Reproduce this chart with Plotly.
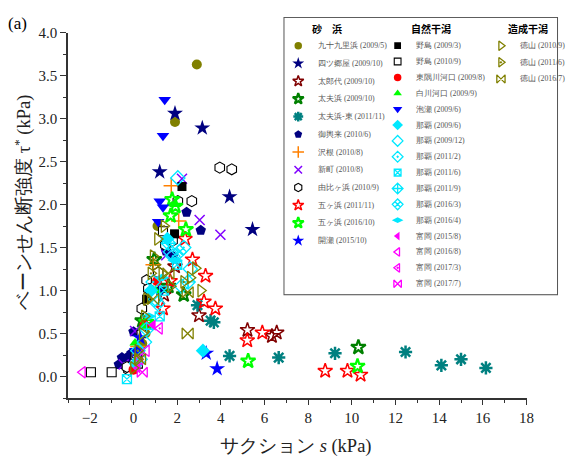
import plotly.graph_objects as go

# ---------------- data (suction s [kPa], vane shear strength tau* [kPa]) ----------------
# 砂浜
x_kujukuri = [2.9, 1.9, 1.1, 0.55, 0.3, 0.15, 0.4]
y_kujukuri = [3.63, 2.96, 1.75, 0.5, 0.3, 0.2, 0.38]
x_yotsugoya = [1.9, 3.15, 1.2, 4.4, 5.45]
y_yotsugoya = [3.06, 2.89, 2.38, 2.09, 1.71]
x_tarodai = [5.22, 6.34, 6.56, 3.0, 1.9, 1.4]
y_tarodai = [0.54, 0.47, 0.51, 0.71, 1.28, 0.95]
x_tayuhama = [10.3, 2.3, 0.95, 0.4, 1.6]
y_tayuhama = [0.34, 0.95, 1.36, 0.65, 1.05]
x_tayuhama_e = [4.4, 6.65, 9.23, 12.46, 14.1, 15.0, 16.14, 2.93, 3.53, 3.68]
y_tayuhama_e = [0.24, 0.22, 0.27, 0.285, 0.13, 0.2, 0.1, 0.83, 0.65, 0.63]
x_omokorai = [2.43, 3.08, 1.2, -0.53, -0.09, 0.0, 1.8, 1.49, -0.3, -0.67]
y_omokorai = [1.91, 1.7, 1.0, 0.22, 0.27, 0.52, 1.4, 1.46, 0.22, 0.14]
x_sawane = [1.73, 2.07, 0.9, 0.2]
y_sawane = [2.22, 1.81, 1.3, 0.35]
x_shinmachi = [2.22, 3.03, 3.98, 1.5, 0.07, -0.45]
y_shinmachi = [2.3, 1.82, 1.65, 1.41, 0.53, 0.14]
x_yuigahama = [3.95, 4.5, 2.03, 2.67, 1.46, 1.79, 1.13, 0.6, 0.68, 0.38, 0.38, 0.1, 0.0, -0.23, 0.15, -0.3]
y_yuigahama = [2.43, 2.41, 2.04, 2.04, 1.53, 1.58, 1.21, 1.12, 1.02, 0.79, 0.5, 0.24, 0.1, 0.08, 0.26, 0.11]
x_gokahama11 = [5.21, 5.9, 8.78, 9.8, 10.4, 1.68, 3.3, 3.23, 3.75, 1.35, 2.36, 2.7]
y_gokahama11 = [0.42, 0.51, 0.065, 0.065, 0.02, 1.11, 1.17, 0.87, 0.79, 0.79, 1.6, 1.36]
x_gokahama16 = [5.25, 10.26, 1.77, 1.92, 1.7, 2.4, 0.59]
y_gokahama16 = [0.18, 0.12, 2.06, 1.98, 1.87, 1.71, 0.63]
x_yurise = [3.33, 3.83, 0.3, 0.15]
y_yurise = [0.27, 0.09, 0.45, 0.3]
# 自然干潟
x_nojima09 = [2.22, 1.88, 0.6]
y_nojima09 = [2.21, 1.66, 0.9]
x_nojima10 = [-1.95, -1.0, 1.35, 0.2]
y_nojima10 = [0.05, 0.05, 1.69, 0.15]
x_higashi = [1.08, 0.0, 0.5]
y_higashi = [1.11, 0.08, 0.6]
x_shirakawa = [0.45, 0.07, 1.0, 1.9]
y_shirakawa = [0.58, 0.39, 1.0, 2.0]
x_awase = [1.43, 1.35, 1.2, 1.35, 1.13, 0.1]
y_awase = [3.22, 2.8, 2.04, 1.97, 1.8, 0.3]
x_naha0906 = [3.18, 1.55, 0.8, 0.1]
y_naha0906 = [0.3, 1.6, 1.0, 0.15]
x_naha0912 = [2.03, 2.6, 1.7, 2.2, 0.5, 1.0]
y_naha0912 = [2.31, 1.25, 1.45, 1.05, 0.4, 0.9]
x_naha1102 = [1.8, 2.3, 0.9, 0.2]
y_naha1102 = [1.4, 1.5, 1.1, 0.3]
x_naha1106 = [2.0, 1.4, -0.3, 1.2]
y_naha1106 = [1.3, 1.0, -0.03, 0.7]
x_naha1109 = [1.6, 2.5, 0.6]
y_naha1109 = [1.55, 1.1, 0.55]
x_naha1603 = [2.1, 1.1, 0.3]
y_naha1603 = [1.45, 0.85, 0.2]
x_naha1604 = [1.9, 1.3, 0.7]
y_naha1604 = [1.35, 1.15, 0.7]
x_tomioka1508 = [0.9, 0.2]
y_tomioka1508 = [0.6, 0.1]
x_tomioka1608 = [-2.33, 0.6]
y_tomioka1608 = [0.05, 0.3]
x_tomioka1703 = [1.2, 0.3]
y_tomioka1703 = [0.56, 0.2]
x_tomioka1707 = [0.4]
y_tomioka1707 = [0.05]
# 造成干潟
x_tokuyama1009 = [3.08, 0.9, 1.1, 1.3, 0.6, 0.2, 0.4, 2.6, 1.7, 0.0, 2.84]
y_tokuyama1009 = [1.0, 1.4, 1.6, 1.2, 0.9, 0.2, 0.5, 1.15, 1.05, 0.1, 1.26]
x_tokuyama1106 = [1.4, 0.8, 0.5, 0.2, 1.0, 2.3]
y_tokuyama1106 = [1.75, 1.2, 0.7, 0.3, 1.3, 1.1]
x_tokuyama1607 = [2.48, 2.48, 0.9, 0.3, 1.6]
y_tokuyama1607 = [0.5, 0.98, 0.9, 0.2, 1.2]

names_sand = ["九十九里浜 (2009/5)", "四ツ郷屋 (2009/10)", "太郎代 (2009/10)", "太夫浜 (2009/10)",
              "太夫浜-東 (2011/11)", "御輿来 (2010/6)", "沢根 (2010/8)", "新町 (2010/8)",
              "由比ヶ浜 (2010/9)", "五ヶ浜 (2011/11)", "五ヶ浜 (2016/10)", "開瀬 (2015/10)"]
names_nat = ["野島 (2009/3)", "野島 (2010/9)", "東隅川河口 (2009/8)", "白川河口 (2009/9)",
             "泡瀬 (2009/6)", "那覇 (2009/6)", "那覇 (2009/12)", "那覇 (2011/2)", "那覇 (2011/6)",
             "那覇 (2011/9)", "那覇 (2016/3)", "那覇 (2016/4)", "富岡 (2015/8)", "富岡 (2016/8)",
             "富岡 (2017/3)", "富岡 (2017/7)"]
names_art = ["徳山 (2010/9)", "徳山 (2011/6)", "徳山 (2016/7)"]
group_titles = ["砂　浜", "自然干潟", "造成干潟"]

data_sand = [(x_kujukuri, y_kujukuri), (x_yotsugoya, y_yotsugoya), (x_tarodai, y_tarodai),
             (x_tayuhama, y_tayuhama), (x_tayuhama_e, y_tayuhama_e), (x_omokorai, y_omokorai),
             (x_sawane, y_sawane), (x_shinmachi, y_shinmachi), (x_yuigahama, y_yuigahama),
             (x_gokahama11, y_gokahama11), (x_gokahama16, y_gokahama16), (x_yurise, y_yurise)]
data_nat = [(x_nojima09, y_nojima09), (x_nojima10, y_nojima10), (x_higashi, y_higashi),
            (x_shirakawa, y_shirakawa), (x_awase, y_awase), (x_naha0906, y_naha0906),
            (x_naha0912, y_naha0912), (x_naha1102, y_naha1102), (x_naha1106, y_naha1106),
            (x_naha1109, y_naha1109), (x_naha1603, y_naha1603), (x_naha1604, y_naha1604),
            (x_tomioka1508, y_tomioka1508), (x_tomioka1608, y_tomioka1608),
            (x_tomioka1703, y_tomioka1703), (x_tomioka1707, y_tomioka1707)]
data_art = [(x_tokuyama1009, y_tokuyama1009), (x_tokuyama1106, y_tokuyama1106),
            (x_tokuyama1607, y_tokuyama1607)]

# ---------------- styles: (symbol, stroke colour, fill colour, size, line width) ----------------
OL, NV, CY, MG = "#808000", "#000080", "#00E8FF", "#FF00FF"
style_sand = [("circle", OL, OL, 10, 0), ("star", NV, NV, 12, 0), ("star-open", "#800000", None, 11, 1.5),
              ("star-open", "#008000", None, 11, 2.2), ("asterisk", "#008080", None, 11, 2.5),
              ("pentagon", NV, NV, 11, 0), ("cross-thin", "#FF8000", None, 11, 1.5),
              ("x-thin", "#8000FF", None, 10, 1.5), ("hexagon", "black", "white", 11, 1.1),
              ("star-open", "#FF0000", None, 11, 1.5), ("star-open", "#00FF00", None, 11, 2.2),
              ("star", "#0000FF", "#0000FF", 12, 0)]
style_nat = [("square", "black", "black", 9, 0), ("square", "black", "white", 9, 1.1),
             ("circle", "#FF0000", "#FF0000", 10, 0), ("triangle-up", "#00FF00", "#00FF00", 10, 0),
             ("triangle-down", "#0000FF", "#0000FF", 11, 0), ("diamond", CY, CY, 11, 0),
             ("diamond-open", CY, None, 11, 1.3), ("diamond-open-dot", CY, None, 11, 1.3),
             ("square-x-open", CY, None, 9, 1.3), ("diamond-cross-open", CY, None, 11, 1.3),
             ("diamond-x-open", CY, None, 11, 1.3), ("diamond-wide", CY, CY, 11, 0),
             ("triangle-left", MG, MG, 10, 0), ("triangle-left-open", MG, None, 10, 1.3),
             ("triangle-left-open-dot", MG, None, 10, 1.3), ("bowtie-open", MG, None, 10, 1.3)]
style_art = [("triangle-right-open", OL, None, 11, 1.3), ("triangle-right-open-dot", OL, None, 11, 1.3),
             ("bowtie-open", OL, None, 11, 1.3)]

SERIF = "Liberation Serif"
fig = go.Figure()


def mk(st, scale=1.0):
    sym, stroke, fill, size, lw = st
    col = fill if fill is not None else stroke
    return dict(symbol=sym, size=size * scale, color=col,
                line=dict(color=stroke, width=lw if lw > 0 else 0))


for data, styles in ((data_sand, style_sand), (data_nat, style_nat), (data_art, style_art)):
    for (xs, ys), st in zip(data, styles):
        fig.add_trace(go.Scatter(x=xs, y=ys, mode="markers", marker=mk(st), showlegend=False,
                                 hoverinfo="x+y", cliponaxis=False))

# ---------------- hand-built three-column legend on an overlay axis ----------------
annotations = []
cols = [(names_sand, style_sand, 302, 320, 18.1, 331), (names_nat, style_nat, 403, 420, 16.2, 437),
        (names_art, style_art, 508, 525, 17.0, 535)]
for (names, styles, mx, tx, step, hx), title in zip(cols, group_titles):
    ys_leg = [38.3 + i * step for i in range(len(names))]
    for nm, st, yy in zip(names, styles, ys_leg):
        fig.add_trace(go.Scatter(x=[mx], y=[yy], xaxis="x2", yaxis="y2", mode="markers",
                                 marker=mk(st, 0.75), showlegend=False, hoverinfo="skip"))
        annotations.append(dict(x=tx, y=yy, xref="x2", yref="y2", text=nm, showarrow=False,
                                xanchor="left", yanchor="middle",
                                font=dict(family=SERIF, size=7.8, color="#555555")))
    annotations.append(dict(x=hx, y=21, xref="x2", yref="y2", text="<b>" + title + "</b>",
                            showarrow=False, xanchor="center", yanchor="middle",
                            font=dict(family="Noto Sans CJK JP", size=10, color="black")))

# axis titles and panel label
annotations.append(dict(x=(22 - 68) / 498, y=(398 - 198) / 390, xref="paper", yref="paper",
                        xanchor="center", yanchor="middle",
                        text="ベーンせん断強度 τ<sup>*</sup> (kPa)", textangle=-90, showarrow=False,
                        font=dict(family=SERIF, size=18.5, color="#222")))
annotations.append(dict(x=(300 - 68) / 498, y=(398 - 448) / 390, xref="paper", yref="paper",
                        xanchor="center", yanchor="middle",
                        text="サクション <i>s</i> (kPa)", showarrow=False,
                        font=dict(family=SERIF, size=18.5, color="#222")))
annotations.append(dict(x=(5 - 68) / 498, y=(398 - 16) / 390, xref="paper", yref="paper",
                        text="(a)", showarrow=False, xanchor="left", yanchor="middle",
                        font=dict(family=SERIF, size=17, color="black")))

AX = "#333333"
fig.update_layout(
    width=574, height=459, margin=dict(l=68, r=8, t=8, b=61),
    paper_bgcolor="white", plot_bgcolor="white", showlegend=False,
    font=dict(family=SERIF),
    annotations=annotations,
    shapes=[dict(type="rect", xref="x2 domain", yref="y2 domain", x0=0, x1=1, y0=0, y1=1,
                 line=dict(color="#555555", width=2), fillcolor="rgba(0,0,0,0)", layer="below")],
    xaxis=dict(domain=[0, 0.93574], range=[-3, 18], tick0=0, dtick=2, ticks="outside", ticklen=5,
               tickwidth=1.3, tickcolor=AX, showline=True, linecolor=AX, linewidth=1.5,
               showgrid=False, zeroline=False,
               minor=dict(dtick=1, tick0=0, ticks="outside", ticklen=3, tickcolor=AX, tickwidth=1.2,
                          showgrid=False),
               tickfont=dict(family=SERIF, size=15, color="#222")),
    yaxis=dict(domain=[0, 0.95641], range=[-0.25, 4.0], tick0=0, dtick=0.5, tickformat=".1f",
               ticks="outside", ticklen=6, tickwidth=1.3, tickcolor=AX, showline=True, linecolor=AX,
               linewidth=1.5, showgrid=False, zeroline=False,
               minor=dict(dtick=0.25, tick0=0, ticks="outside", ticklen=3, tickcolor=AX, tickwidth=1.2,
                          showgrid=False),
               tickfont=dict(family=SERIF, size=15, color="#222")),
    xaxis2=dict(domain=[0.4418, 0.998], range=[288, 565], visible=False, anchor="y2", fixedrange=True),
    yaxis2=dict(domain=[0.2718, 0.9949], range=[292, 10], visible=False, anchor="x2", fixedrange=True),
)

fig.write_html("out.html")
